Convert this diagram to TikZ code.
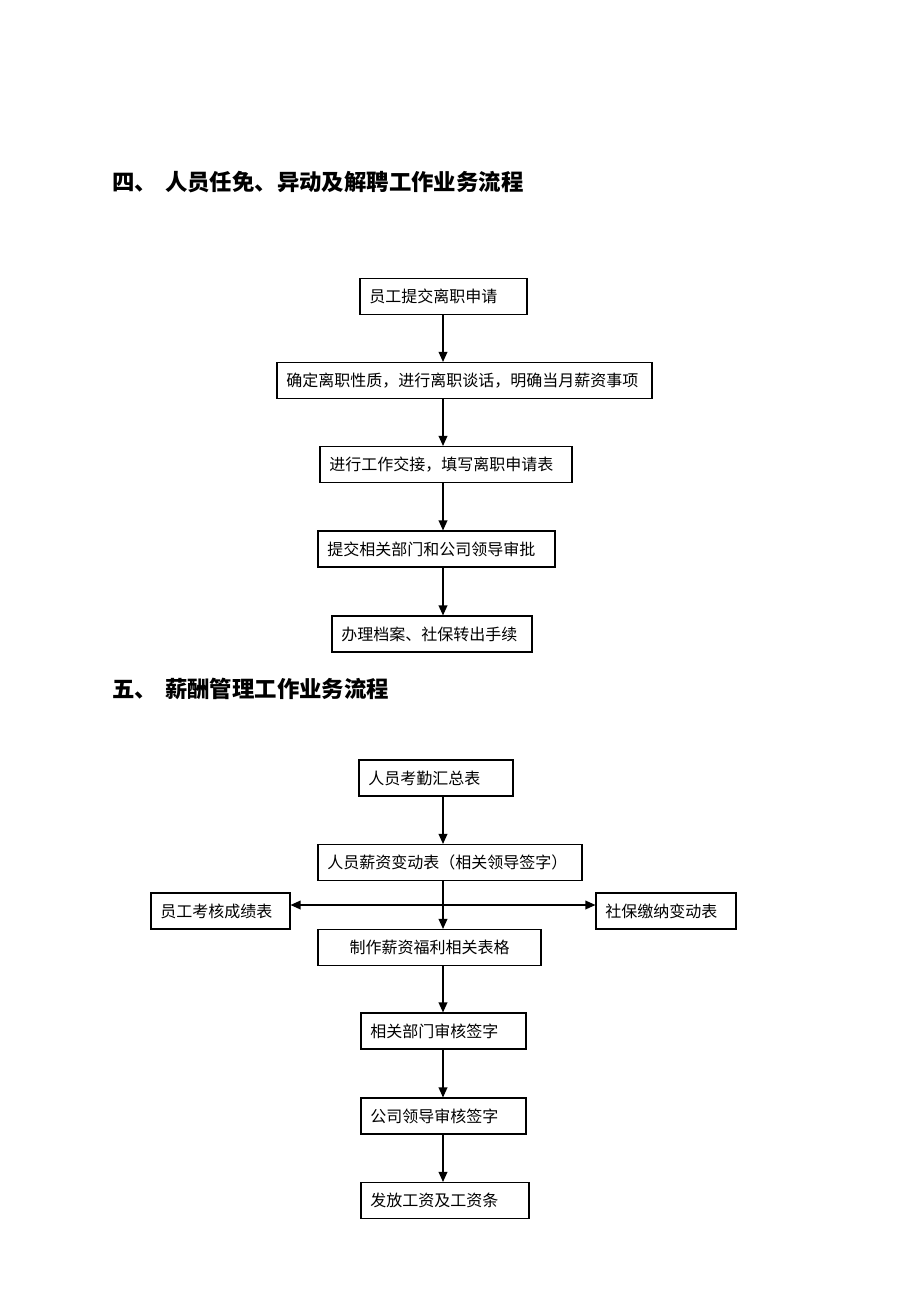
\documentclass[tikz,border=0pt]{standalone}
\usepackage{fontspec}
\newfontfamily\cjk{Noto Sans CJK SC}
\usetikzlibrary{arrows.meta}
\tikzset{
  box/.style={draw,line width=0.8pt,inner xsep=7pt,minimum height=27pt,
    text width=#1,align=left,font=\cjk\fontsize{12}{14}\selectfont},
  title/.style={anchor=west,inner sep=0pt,font=\cjk\bfseries\fontsize{16.8}{20}\selectfont},
  link/.style={->,line width=1pt}
}
\begin{document}
\begin{tikzpicture}[x=0.75pt,y=-0.75pt,>={Triangle[length=7.5pt,width=6.5pt]}]
                        \useasboundingbox (0,0) rectangle (920,1302);
                        \coordinate (spine) at (443,0);
                        \node[title] (t4) at (112,182) {四、\hspace{6pt}人员任免、异动及解聘工作业务流程};
                        \node[box=111.25pt] (apply) at (443.5,296.5) {员工提交离职申请};
                        \node[box=267.25pt] (nature) at (464.5,380.5) {确定离职性质，进行离职谈话，明确当月薪资事项};
                        \node[box=175pt] (handover) at (446,464.5) {进行工作交接，填写离职申请表};
                        \node[box=163.75pt] (approve) at (436.5,549) {提交相关部门和公司领导审批};
                        \node[box=136pt] (transfer) at (432,634) {办理档案、社保转出手续};
                        \draw[link] (apply.south -| spine) -- (nature.north -| spine);
                        \draw[link] (nature.south -| spine) -- (handover.north -| spine);
                        \draw[link] (handover.south -| spine) -- (approve.north -| spine);
                        \draw[link] (approve.south -| spine) -- (transfer.north -| spine);
                        \node[title] (t5) at (112,689) {五、\hspace{6pt}薪酬管理工作业务流程};
                        \node[box=101.5pt] (attend) at (436,778) {人员考勤汇总表};
                        \node[box=184pt] (change) at (450,862.5) {人员薪资变动表（相关领导签字）};
                        \node[box=90.25pt] (score) at (220.5,911) {员工考核成绩表};
                        \node[box=91pt] (social) at (666,911) {社保缴纳变动表};
                        \node[box=153.25pt,align=center] (tables) at (429.5,947.5) {制作薪资福利相关表格};
                        \node[box=109.75pt] (deptsign) at (443.5,1031) {相关部门审核签字};
                        \node[box=109.75pt] (leadsign) at (443.5,1116) {公司领导审核签字};
                        \node[box=112pt] (payslip) at (445,1200.5) {发放工资及工资条};
                        \coordinate (split) at (443,905);
                        \draw[link] (attend.south -| spine) -- (change.north -| spine);
                        \draw[link] (change.south -| spine) -- (tables.north -| spine);
                        \draw[link,<->] (score.east |- split) -- (social.west |- split);
                        \draw[link] (tables.south -| spine) -- (deptsign.north -| spine);
                        \draw[link] (deptsign.south -| spine) -- (leadsign.north -| spine);
                        \draw[link] (leadsign.south -| spine) -- (payslip.north -| spine);
\end{tikzpicture}
\end{document}
